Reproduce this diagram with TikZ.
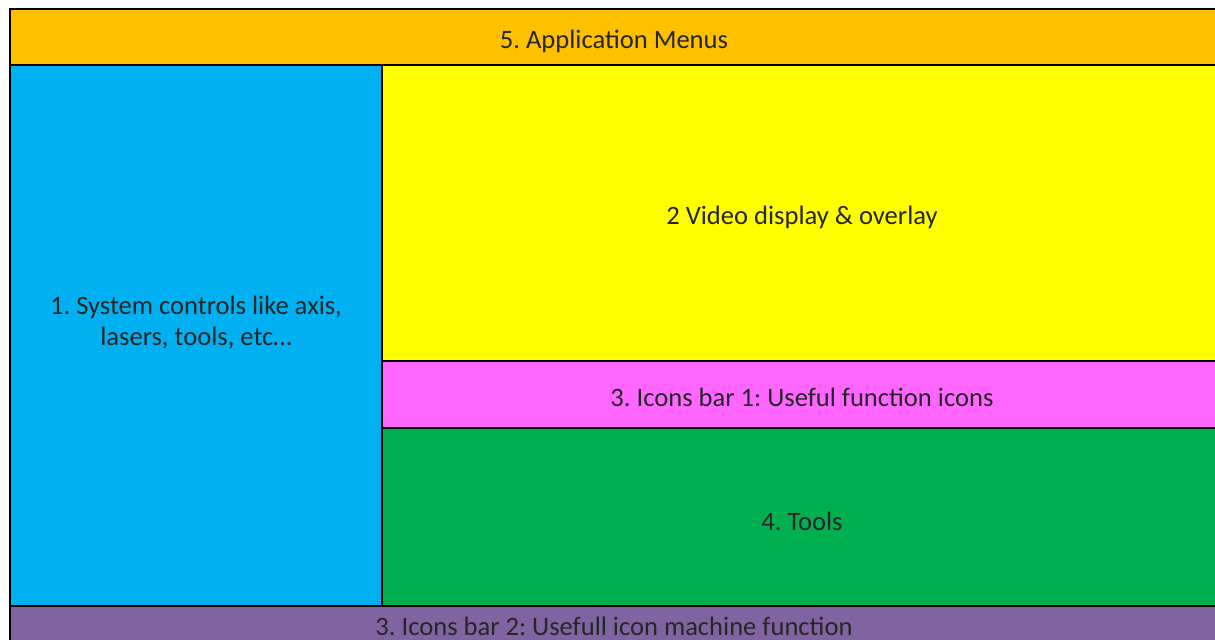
\documentclass[tikz,border=0pt]{standalone}
\usepackage{fontspec}
\setmainfont{Carlito}
\usepackage{xcolor}
\usepackage{tikz}
\definecolor{menuorange}{HTML}{FFC000}
\definecolor{ctrlblue}{HTML}{00B0F0}
\definecolor{videoyellow}{HTML}{FFFF00}
\definecolor{iconpink}{HTML}{FF66FF}
\definecolor{toolgreen}{HTML}{00B050}
\definecolor{machinepurple}{HTML}{8064A2}
\definecolor{labelgray}{HTML}{262626}
\frenchspacing
\tikzset{
	panel/.style={draw=black,line width=1.4pt},
	label text/.style={font=\fontsize{18.9}{22}\selectfont,text=labelgray,align=center,inner sep=0pt}
}

\begin{document}
\begin{tikzpicture}[x=0.025cm,y=-0.025cm]
		    \useasboundingbox (0,0) rectangle (1215,639);
		    % panels
		    \draw[panel,fill=menuorange] (10,9) rectangle (1220,65);
		    \draw[panel,fill=ctrlblue] (10,65) rectangle (382,606);
		    \draw[panel,fill=videoyellow] (382,65) rectangle (1220,361);
		    \draw[panel,fill=iconpink] (382,361) rectangle (1220,428);
		    \draw[panel,fill=toolgreen] (382,428) rectangle (1220,606);
		    \draw[panel,fill=machinepurple] (10,606) rectangle (1220,660);
		    % labels
		    \node [label text] (menus) at (614,41) {5. Application Menus};
		    \node [label text] (controls) at (196,322) {1. System controls like axis,\\lasers, tools, etc\dots};
		    \node [label text] (video) at (802,217) {2 Video display \& overlay};
		    \node [label text] (bar1) at (802,397) {3. Icons bar 1: Useful function icons};
		    \node [label text] (tools) at (802,521) {4. Tools};
		    \node [label text] (bar2) at (614,626) {3. Icons bar 2: Usefull icon machine function};
		  \end{tikzpicture}
\end{document}
